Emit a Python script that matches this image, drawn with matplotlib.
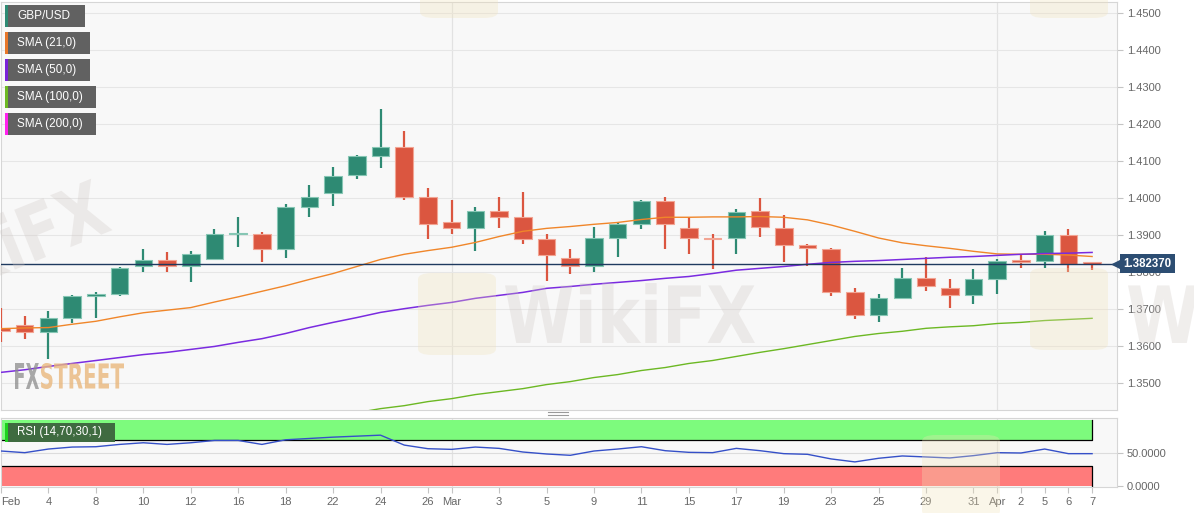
import numpy as np
import matplotlib
matplotlib.use("Agg")
import matplotlib.pyplot as plt
from matplotlib.patches import Rectangle, FancyBboxPatch, PathPatch
from matplotlib.transforms import Affine2D, blended_transform_factory
from matplotlib.textpath import TextPath
from matplotlib.font_manager import FontProperties

plt.rcParams['font.family'] = ['Liberation Sans', 'DejaVu Sans']

# daily GBP/USD candles, Feb 2 .. Apr 7 2021
dates = ['Feb 2', 'Feb 3', 'Feb 4', 'Feb 5', 'Feb 8', 'Feb 9', 'Feb 10', 'Feb 11', 'Feb 12',
         'Feb 15', 'Feb 16', 'Feb 17', 'Feb 18', 'Feb 19', 'Feb 22', 'Feb 23', 'Feb 24',
         'Feb 25', 'Feb 26', 'Mar 1', 'Mar 2', 'Mar 3', 'Mar 4', 'Mar 5', 'Mar 8', 'Mar 9',
         'Mar 10', 'Mar 11', 'Mar 12', 'Mar 15', 'Mar 16', 'Mar 17', 'Mar 18', 'Mar 19',
         'Mar 22', 'Mar 23', 'Mar 24', 'Mar 25', 'Mar 26', 'Mar 29', 'Mar 30', 'Mar 31',
         'Apr 1', 'Apr 2', 'Apr 5', 'Apr 6', 'Apr 7']
opens = [1.3650, 1.3657, 1.3638, 1.3676, 1.3736, 1.3741, 1.3816, 1.3833, 1.3816,
         1.3835, 1.3903, 1.3905, 1.3862, 1.3976, 1.4014, 1.4062, 1.4114,
         1.4138, 1.4005, 1.3935, 1.3921, 1.3965, 1.3951, 1.3889, 1.3840, 1.3816,
         1.3892, 1.3932, 1.3992, 1.3921, 1.3894, 1.3892, 1.3965, 1.3921,
         1.3873, 1.3862, 1.3748, 1.3686, 1.3732, 1.3784, 1.3759, 1.3740,
         1.3781, 1.3832, 1.3830, 1.3900, 1.3825]
highs = [1.3705, 1.3681, 1.3695, 1.3738, 1.3746, 1.3815, 1.3862, 1.3854, 1.3857,
         1.3916, 1.3949, 1.3910, 1.3984, 1.4035, 1.4084, 1.4117, 1.4241,
         1.4181, 1.4027, 1.3997, 1.3976, 1.4005, 1.4016, 1.3905, 1.3862, 1.3924,
         1.3935, 1.3995, 1.4003, 1.3949, 1.3903, 1.3970, 1.4000, 1.3956,
         1.3876, 1.3865, 1.3757, 1.3743, 1.3811, 1.3843, 1.3781, 1.3808,
         1.3835, 1.3849, 1.3911, 1.3916, 1.3826]
lows = [1.3611, 1.3619, 1.3565, 1.3662, 1.3676, 1.3735, 1.3800, 1.3800, 1.3773,
        1.3833, 1.3868, 1.3827, 1.3838, 1.3949, 1.3979, 1.4052, 1.4081,
        1.3997, 1.3889, 1.3905, 1.3857, 1.3919, 1.3878, 1.3776, 1.3797, 1.3801,
        1.3843, 1.3916, 1.3862, 1.3851, 1.3808, 1.3851, 1.3895, 1.3827,
        1.3816, 1.3737, 1.3673, 1.3667, 1.3727, 1.3751, 1.3703, 1.3716,
        1.3743, 1.3811, 1.3811, 1.3800, 1.3807]
closes = [1.3643, 1.3638, 1.3676, 1.3735, 1.3741, 1.3813, 1.3833, 1.3816, 1.3851,
          1.3905, 1.3907, 1.3862, 1.3976, 1.4005, 1.4060, 1.4114, 1.4138,
          1.4005, 1.3930, 1.3921, 1.3965, 1.3951, 1.3889, 1.3846, 1.3816, 1.3892,
          1.3932, 1.3992, 1.3930, 1.3894, 1.3889, 1.3962, 1.3924, 1.3873,
          1.3865, 1.3748, 1.3686, 1.3732, 1.3784, 1.3762, 1.3740, 1.3781,
          1.3832, 1.3830, 1.3900, 1.3824, 1.38237]

sma21 = [1.3648, 1.3650, 1.3651, 1.3660, 1.3668, 1.3680, 1.3691, 1.3698, 1.3705,
         1.3720, 1.3734, 1.3749, 1.3764, 1.3781, 1.3797, 1.3816, 1.3835,
         1.3849, 1.3859, 1.3868, 1.3881, 1.3897, 1.3911, 1.3919, 1.3924, 1.3930,
         1.3935, 1.3943, 1.3949, 1.3949, 1.3950, 1.3950, 1.3951, 1.3949,
         1.3942, 1.3928, 1.3911, 1.3893, 1.3880, 1.3872, 1.3865, 1.3857,
         1.3850, 1.3849, 1.3849, 1.3847, 1.3843]
sma50 = [1.3530, 1.3537, 1.3546, 1.3554, 1.3562, 1.3570, 1.3578, 1.3584, 1.3592,
         1.3600, 1.3611, 1.3621, 1.3635, 1.3651, 1.3665, 1.3678, 1.3692,
         1.3702, 1.3711, 1.3719, 1.3730, 1.3738, 1.3746, 1.3757, 1.3762, 1.3768,
         1.3773, 1.3778, 1.3784, 1.3789, 1.3797, 1.3806, 1.3811, 1.3816,
         1.3822, 1.3827, 1.3830, 1.3832, 1.3835, 1.3838, 1.3841, 1.3843,
         1.3846, 1.3849, 1.3851, 1.3852, 1.3854]
sma100 = [np.nan] * 15 + [1.3421, 1.3432,
          1.3440, 1.3451, 1.3459, 1.3470, 1.3478, 1.3486, 1.3497, 1.3505, 1.3516,
          1.3524, 1.3535, 1.3543, 1.3554, 1.3562, 1.3573, 1.3584, 1.3594,
          1.3605, 1.3616, 1.3627, 1.3635, 1.3641, 1.3649, 1.3653, 1.3656,
          1.3662, 1.3665, 1.3670, 1.3673, 1.3676]
rsi = [53, 50.5, 56, 59, 59.5, 63, 65.5, 63, 65.5,
       69, 69, 63, 70, 72, 74, 75.5, 77,
       62, 56.5, 55.5, 59, 57, 51.5, 48.5, 46.5, 53,
       56, 59.5, 53.5, 51, 50.5, 57, 53.5, 49,
       48, 41, 36.5, 42, 45.5, 44, 42.5, 46,
       50.5, 50, 56, 49, 49]

tick_idx = [0, 2, 4, 6, 8, 10, 12, 14, 16, 18, 19, 21, 23, 25, 27, 29, 31, 33, 35, 37,
            39, 41, 42, 43, 44, 45, 46]
tick_labels = ['Feb', '4', '8', '10', '12', '16', '18', '22', '24', '26', 'Mar', '3', '5',
               '9', '11', '15', '17', '19', '23', '25', '29', '31', 'Apr', '2', '5', '6', '7']
month_idx = [19, 42]
price_ticks = [1.35, 1.36, 1.37, 1.38, 1.39, 1.40, 1.41, 1.42, 1.43, 1.44, 1.45]
legend_labels = ['GBP/USD', 'SMA (21,0)', 'SMA (50,0)', 'SMA (100,0)', 'SMA (200,0)']
legend_colors = ['#2e8a73', '#e8772a', '#7a22d8', '#6cb823', '#ff22ee']

W, H = 1194, 513
UP, DOWN = '#2e8a73', '#db5640'
GRID = '#e6e6e6'
SPINE = '#d6d6d6'
LABEL = '#666666'


def px_box(x0, y0, x1, y1):
    return [x0 / W, 1 - y1 / H, (x1 - x0) / W, (y1 - y0) / H]


fig = plt.figure(figsize=(W / 100, H / 100), dpi=100)
fig.patch.set_facecolor('white')
ax = fig.add_axes(px_box(1, 2, 1117, 410))
rax = fig.add_axes(px_box(1, 418, 1117, 487), sharex=ax)

x = np.arange(len(dates))
o = np.array(opens)
c = np.array(closes)
up = c >= o
cols = np.where(up, UP, DOWN)
edges = np.where(up, '#86c6b4', '#f2a493')
body_low = np.minimum(o, c)
body_h = np.maximum(np.abs(c - o), 0.0005)
body_low = np.where(np.abs(c - o) < 0.0005, (o + c) / 2 - 0.00025, body_low)

for a in (ax, rax):
    a.set_facecolor('#f8f8f8')
    for s in a.spines.values():
        s.set_color(SPINE)
        s.set_linewidth(0.8)
    for m in month_idx:
        a.axvline(m, color='#e2e2e2', lw=0.9, zorder=0.5)

# main price panel
ax.set_yticks(price_ticks)
ax.grid(axis='y', color=GRID, lw=0.8, zorder=0)
ax.vlines(x, lows, highs, colors=cols, lw=1.6, zorder=3)
ax.bar(x, body_h, bottom=body_low, width=0.74, color=cols, edgecolor=edges,
       linewidth=0.8, zorder=4)
ax.plot(x, sma100, color='#6cb823', lw=1.0, zorder=5)
ax.plot(x, sma21, color='#f0862a', lw=1.0, zorder=5)
ax.plot(x, sma50, color='#7a2be0', lw=1.1, zorder=5)
ax.axhline(closes[-1], color='#1f3a5f', lw=1.0, zorder=6)

ax.set_xlim(0.02, 47.05)
ax.set_ylim(1.34283, 1.45306)
ax.yaxis.tick_right()
ax.set_yticklabels(['%.4f' % v for v in price_ticks])
ax.tick_params(axis='y', length=4, color='#c4c4c4', labelcolor=LABEL, labelsize=8, pad=3)
ax.tick_params(axis='x', bottom=False, labelbottom=False)

tr = blended_transform_factory(ax.transAxes, ax.transData)
ax.plot([1.0], [closes[-1]], marker='<', ms=7, color='#2c4d72', transform=tr,
        clip_on=False, zorder=10)
ax.text(1.006, closes[-1], '%.6f' % closes[-1], transform=tr, ha='left', va='center',
        fontsize=8.3, fontweight='bold', color='white', clip_on=False, zorder=11,
        bbox=dict(boxstyle='square,pad=0.3', fc='#2c4d72', ec='none'))

# RSI panel
rax.fill_between([-1, 46], 70, 100, color='#7dfb7d', lw=0, zorder=1)
rax.fill_between([-1, 46], 0, 30, color='#ff7b7b', lw=0, zorder=1)
rax.plot([-1, 46, 46], [70, 70, 100], color='black', lw=0.9, zorder=2)
rax.plot([-1, 46, 46], [30, 30, 0], color='black', lw=0.9, zorder=2)
rax.axhline(50, color='#dcdcdc', lw=0.8, zorder=0.6)
rax.plot(x, rsi, color='#3550c8', lw=1.0, zorder=3)
rax.set_ylim(-1.5, 103)
rax.yaxis.tick_right()
rax.set_yticks([0, 50])
rax.set_yticklabels(['0.0000', '50.0000'])
rax.tick_params(axis='y', length=4, color='#c4c4c4', labelcolor=LABEL, labelsize=8, pad=3)
rax.set_xticks(tick_idx)
rax.set_xticklabels(tick_labels)
rax.tick_params(axis='x', length=4, color='#c4c4c4', labelcolor=LABEL, labelsize=8, pad=3)
rax.get_xticklabels()[0].set_ha('left')

fig.add_artist(Rectangle((5 / W, 1 - 442 / H), 110 / W, 19 / H, transform=fig.transFigure,
                         fc='#3f6b40', ec='none', zorder=20))
fig.add_artist(Rectangle((5 / W, 1 - 442 / H), 3 / W, 19 / H, transform=fig.transFigure,
                         fc='#1ed21e', ec='none', zorder=21))
fig.text(17 / W, 1 - 432.5 / H, 'RSI (14,70,30,1)', color='white', fontsize=8.3,
         va='center', ha='left', zorder=22)

# legend tags top-left
widths = [80, 85, 85, 91, 91]
for k, (lab, col) in enumerate(zip(legend_labels, legend_colors)):
    top = 5 + 27 * k
    fig.add_artist(Rectangle((5 / W, 1 - (top + 22) / H), widths[k] / W, 22 / H,
                             transform=fig.transFigure, fc='#616161', ec='none', zorder=20))
    fig.add_artist(Rectangle((5 / W, 1 - (top + 22) / H), 3 / W, 22 / H,
                             transform=fig.transFigure, fc=col, ec='none', zorder=21))
    fig.text(17 / W, 1 - (top + 11) / H, lab, color='white', fontsize=8.5,
             va='center', ha='left', zorder=22)

# panel separator grip
for yy in (412, 414.5):
    fig.add_artist(plt.Line2D([548 / W, 568 / W], [1 - yy / H, 1 - yy / H],
                              color='#9a9a9a', lw=0.8, transform=fig.transFigure))

# watermarks
def stretched_text(s, x0, y_top, w, h, color, alpha, rot=0):
    fp = FontProperties(family='DejaVu Sans', weight='bold')
    tp = TextPath((0, 0), s, size=10, prop=fp)
    e = tp.get_extents()
    t = (Affine2D().translate(-e.x0, -e.y0).scale(w / e.width, h / e.height)
         .rotate_deg(rot).translate(x0, H - y_top - h))
    fig.add_artist(PathPatch(tp, transform=t, fc=color, ec='none', alpha=alpha, zorder=15))


stretched_text('FX', 15, 363, 24, 26, '#8c8c8c', 0.75)
stretched_text('STREET', 41, 363, 83, 26, '#e9b77c', 0.8)
stretched_text('WikiFX', 505, 283, 250, 60, '#cfc7c3', 0.3)
stretched_text('WikiFX', -110, 262, 240, 58, '#cfc7c3', 0.3, rot=22)
stretched_text('Wi', 1128, 283, 90, 60, '#cfc7c3', 0.3)
for bx, by in ((418, 273), (1030, 268), (922, 435)):
    fig.add_artist(FancyBboxPatch((bx / W, 1 - (by + 82) / H), 78 / W, 82 / H,
                                  boxstyle='round,pad=0,rounding_size=0.012',
                                  transform=fig.transFigure, fc='#f1e2b8', ec='none',
                                  alpha=0.3, zorder=14))
for bx in (420, 1030):
    fig.add_artist(FancyBboxPatch((bx / W, 1 - 18 / H), 78 / W, 30 / H,
                                  boxstyle='round,pad=0,rounding_size=0.012',
                                  transform=fig.transFigure, fc='#f1e2b8', ec='none',
                                  alpha=0.3, zorder=14))

fig.savefig('out.png', dpi=100, facecolor=fig.get_facecolor())
